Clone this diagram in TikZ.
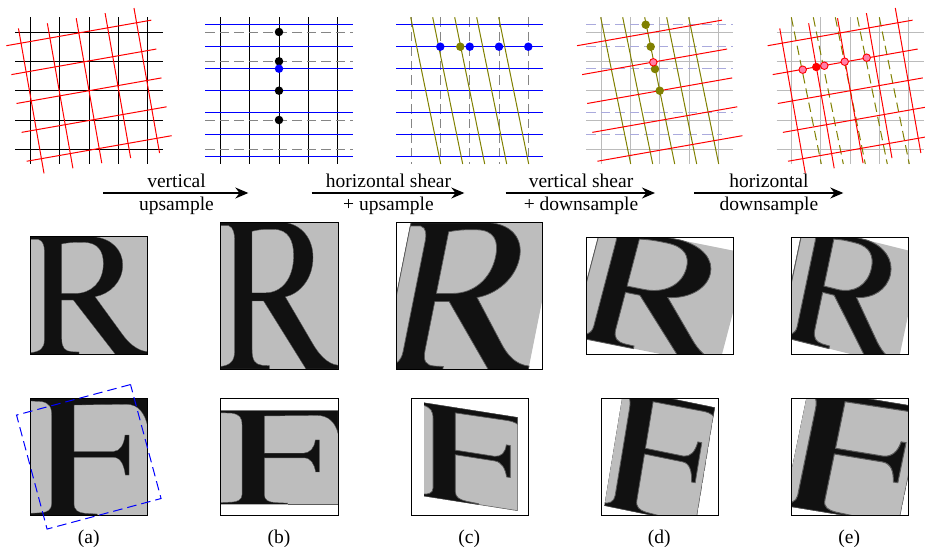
\documentclass[tikz,border=0pt]{standalone}
\usepackage{fontspec}
\setmainfont{Liberation Serif}
\usetikzlibrary{arrows.meta,positioning}
\definecolor{ink}{HTML}{111111}
\definecolor{paper}{HTML}{BDBDBD}
\definecolor{softedge}{HTML}{5A5A5A}
\definecolor{gridgray}{HTML}{BBBBBB}
\definecolor{dashgray}{HTML}{858585}
\definecolor{fadeblue}{HTML}{AAAADD}
\definecolor{shearolive}{HTML}{808000}
\definecolor{dotpink}{HTML}{FF80A8}
\tikzset{
  lab/.style={font=\fontsize{19.5}{22}\selectfont,anchor=base,inner sep=0pt},
  ar/.style={-{Stealth[length=13pt,width=11pt]},line width=1.3pt},
  frame/.style={draw=black,line width=1pt},
  solidln/.style={line width=1pt},
  dashln/.style={line width=1pt,dash pattern=on 9.5pt off 5pt},
  dot/.style={circle,fill=black,inner sep=0pt,minimum size=8.5pt},
  pdot/.style={circle,draw=red,line width=0.9pt,fill=dotpink,inner sep=0pt,minimum size=7.5pt},
  inkpath/.style={fill=ink},
  paperpath/.style={fill=paper},
  soft/.style={inkpath/.append style={draw=softedge,line width=#1},paperpath/.append style={draw=softedge,line width=#1}},
  imgmap/.style n args={6}{shift={(#5,#6)},cm={#1,-#3,-#2,#4,(0,0)}},
}
\newcommand{\gridv}[2]{\foreach \k in {-2,...,2} \draw[#2] (#1+\k*29.33,17.3) -- (#1+\k*29.33,164);}
\newcommand{\gridh}[2]{\foreach \k in {-2,...,2} \draw[#2] (#1-73.6,90.7+\k*29.33) -- (#1+73.6,90.7+\k*29.33);}
\newcommand{\bluelines}[2]{\foreach \k in {-3,...,3} \draw[#2] (#1-73.6,90.7+\k*22) -- (#1+73.6,90.7+\k*22);}
\newcommand{\shearlines}[2]{\foreach \k in {-2,...,2} \draw[#2] (#1-15+\k*22,17.3) -- (#1+15+\k*22,164);}
\newcommand{\redh}[1]{\begin{scope}[shift={(#1,90.7)},rotate=10]
  \foreach \k in {-2,...,2} \draw[solidln,red] (-73.6,\k*29.33) -- (73.6,\k*29.33);
\end{scope}}
\newcommand{\redv}[1]{\begin{scope}[shift={(#1,90.7)},rotate=10]
  \foreach \k in {-2,...,2} \draw[solidln,red] (\k*29.33,-73.6) -- (\k*29.33,73.6);
\end{scope}}
\newcommand{\letterR}{
  \fill[paper] (0,0) rectangle (117.7,118);
  \path[inkpath] (0,0) -- (63.3,0) .. controls (81.7,1.7) and (92.7,13.3) .. (92.7,28.3)
    .. controls (92.7,45) and (80,57.3) .. (65,60) -- (91.7,96.7)
    .. controls (98.3,106) and (106.7,114) .. (117.7,115) -- (117.7,118) -- (85.7,118)
    -- (43.3,63.3) -- (31.7,63.3) -- (31.7,101.7) .. controls (31.7,111.7) and (35,114.3) .. (41.7,115)
    -- (49,115.3) -- (49,118) -- (0,118) -- cycle;
  \path[paperpath] (0,2.7) -- (8.3,2.7) .. controls (13.3,4) and (14.3,10) .. (14.3,14) -- (14.3,103.3)
    .. controls (14.3,111.7) and (10,115) .. (0,116) -- cycle;
  \path[paperpath] (31.7,7.3) .. controls (41.7,5.3) and (47,5.7) .. (53.3,5.7)
    .. controls (68.3,5.7) and (73.3,15) .. (73.3,26.7) .. controls (73.3,45) and (61.7,56.7) .. (45,56.7)
    -- (31.7,56.7) -- cycle;
}
\newcommand{\letterF}{
  \fill[paper] (0,0) rectangle (117.7,117);
  \path[inkpath] (0,0) -- (117.7,0) -- (117.7,28.3) .. controls (115,15) and (108.3,6) .. (96.7,6)
    -- (44,6.7) -- (44,53.3) -- (83.3,53.3) .. controls (90,52.7) and (94,46.7) .. (95,36.7)
    -- (99,36.7) -- (99,76.7) -- (95.3,76.7) .. controls (94,66.7) and (90.7,59) .. (83.3,59)
    -- (44,59) -- (44,105) .. controls (44,112.3) and (48.3,114.3) .. (55,115)
    -- (67.3,115.7) -- (67.3,117) -- (0,117) -- cycle;
  \path[paperpath] (0,2.7) -- (11.7,3.3) .. controls (19.3,5) and (21.7,8.3) .. (21.7,18.3) -- (21.7,105)
    .. controls (21.7,111.7) and (16.7,114) .. (11.7,114.3) -- (0,115) -- cycle;
}
\newcommand{\letterFcrop}{
  \clip (12.7,0) rectangle (106.3,117);
  \letterF
  \draw[softedge,line width=1pt] (106.3,0) -- (106.3,117) -- (67.3,117);
}
\newcommand{\letterbox}[6]{
  \begin{scope}[shift={(#1,#2)}]
    \clip (0,0) rectangle (#3,#4);
    \begin{scope}[#6] #5 \end{scope}
  \end{scope}
  \draw[frame] (#1,#2) rectangle (#1+#3,#2+#4);
}

\begin{document}
\begin{tikzpicture}[x=1pt,y=-1pt]
  \useasboundingbox (0,0) rectangle (925,546);
  % top row
  \gridv{89}{solidln,black} \gridh{89}{solidln,black} \redh{89} \redv{89}

  \gridv{279}{solidln,black} \gridh{279}{dashln,dashgray} \bluelines{279}{solidln,blue}
  \foreach \n/\y in {b1/32,b2/61.3,b3/90.7,b4/120} \node[dot] (\n) at (279,\y) {};
  \node[dot,fill=blue] (b5) at (279,68.7) {};

  \gridv{469.7}{dashln,dashgray} \bluelines{469.7}{solidln,blue} \shearlines{469.7}{solidln,shearolive}
  \foreach \n/\x in {c1/440.3,c2/469.7,c3/499,c4/528.3} \node[dot,fill=blue] (\n) at (\x,46.7) {};
  \node[dot,fill=shearolive] (c5) at (460.3,46.7) {};

  \gridv{659.7}{solidln,gridgray} \gridh{659.7}{solidln,gridgray}
  \foreach \y in {24.7,46.7,68.7,112.7} \draw[dashln,fadeblue] (586,\y) -- (733.3,\y);
  \draw[dashln,fadeblue] (586,134.7) -- (721.7,134.7);
  \shearlines{659.7}{solidln,shearolive} \redh{659.7}
  \foreach \n/\x/\y in {d1/645.7/24.7,d2/650.7/46.7,d3/655/69,d4/659.7/90.7} \node[dot,fill=shearolive] (\n) at (\x,\y) {};
  \node[pdot] (d5) at (653.3,62.3) {};

  \gridv{850.3}{solidln,gridgray} \gridh{850.3}{solidln,gridgray}
  \shearlines{850.3}{dashln,shearolive} \redh{850.3} \redv{850.3}
  \foreach \n/\x/\y in {e1/802.7/69.7,e2/824.3/65.7,e3/844.7/61.7,e4/866.7/57.7} \node[pdot] (\n) at (\x,\y) {};
  \node[pdot,fill=red] (e5) at (816.3,67) {};

  % arrows
  \coordinate (s1) at (103.3,193); \coordinate (t1) at (248.3,193);
  \coordinate (s2) at (311.7,193); \coordinate (t2) at (464.3,193);
  \coordinate (s3) at (505.7,193); \coordinate (t3) at (655,193);
  \coordinate (s4) at (694.3,193); \coordinate (t4) at (843.3,193);
  \draw[ar] (s1) -- (t1); \draw[ar] (s2) -- (t2); \draw[ar] (s3) -- (t3); \draw[ar] (s4) -- (t4);
  \node[lab] (l1a) at (176.5,187.3) {vertical};
  \node[lab] (l1b) at (176.5,210.7) {upsample};
  \node[lab] (l2a) at (388.5,187.3) {horizontal shear};
  \node[lab] (l2b) at (388.5,210.7) {+ upsample};
  \node[lab] (l3a) at (581,187.3) {vertical shear};
  \node[lab] (l3b) at (581,210.7) {+ downsample};
  \node[lab] (l4a) at (769,187.3) {horizontal};
  \node[lab] (l4b) at (769,210.7) {downsample};

  % letters
  \letterbox{30}{236.7}{117.7}{118}{\letterR}{imgmap={1}{0}{0}{1}{0}{0},soft=.3pt}
  \letterbox{220.3}{222.3}{117.7}{146.7}{\letterR}{imgmap={1}{0}{0}{1.243}{0}{0},soft=.4pt}
  \letterbox{396}{222.7}{146.7}{146.3}{\letterR}{imgmap={1.2465}{-.2493}{0}{1.2465}{15}{0},soft=.7pt}
  \letterbox{586.7}{237}{146.7}{117}{\letterR}{imgmap={1.2465}{-.2493}{.2493}{.95}{15}{-12.7},soft=.8pt}
  \letterbox{791.7}{237}{117}{117}{\letterR}{imgmap={.997}{-.2}{.2493}{.95}{12}{-12.7},soft=.9pt}

  \letterbox{30}{398.3}{117.7}{117}{\letterF}{imgmap={1}{0}{0}{1}{0}{0},soft=.3pt}
  \letterbox{220.3}{398.3}{117.7}{117}{\letterF\draw[softedge,line width=1pt] (67.3,117) -- (117.7,117);}{imgmap={1}{0}{0}{.8}{0}{12.3},soft=.4pt}
  \letterbox{411.3}{398.3}{117}{117}{\letterFcrop}{imgmap={1}{0}{.157}{.8}{0}{2.3},soft=.7pt}
  \letterbox{601}{398.3}{117.3}{117}{\letterFcrop}{imgmap={.975}{-.165}{.2}{1}{10.3}{-12.1},soft=.8pt}
  \letterbox{791.7}{398.3}{117}{117}{\letterFcrop}{imgmap={1.22}{-.206}{.2}{1}{1.1}{-12.1},soft=1pt}
  \node[draw=blue,line width=1pt,dash pattern=on 9.5pt off 5pt,rotate=15,minimum size=118pt,inner sep=0pt] (crop) at (88.8,456.8) {};

  % captions
  \node[lab] (ca) at (88.7,543) {(a)};
  \node[lab] (cb) at (279,543) {(b)};
  \node[lab] (cc) at (469.3,543) {(c)};
  \node[lab] (cd) at (659.3,543) {(d)};
  \node[lab] (ce) at (849.3,543) {(e)};
\end{tikzpicture}
\end{document}
